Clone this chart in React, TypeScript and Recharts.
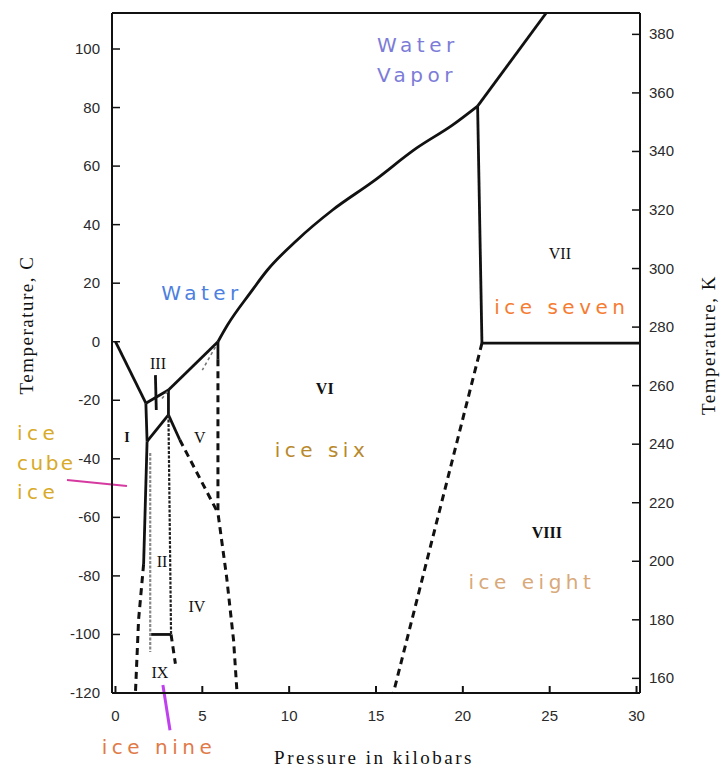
import { LineChart, Line, XAxis, YAxis, ReferenceLine, ReferenceDot } from 'recharts'

// [pressure in kbar, temperature in °C]
type Pt = [number, number]

const P_MIN = -0.2
const P_MAX = 30.2
const T_MIN = -120
const T_MAX = 112.3
const K_MIN = 155
const K_MAX = 387.3

const pressureTicks = [0, 5, 10, 15, 20, 25, 30]
const celsiusTicks = [-120, -100, -80, -60, -40, -20, 0, 20, 40, 60, 80, 100]
const kelvinTicks = [160, 180, 200, 220, 240, 260, 280, 300, 320, 340, 360, 380]

// solid phase boundaries
const liquidIh: Pt[] = [[0, 0], [1.75, -21]]
const liquidIII: Pt[] = [[1.75, -21], [3.05, -16.5]]
const liquidV: Pt[] = [[3.05, -16.5], [5.9, 0]]
const liquidVI: Pt[] = [
  [5.9, 0], [6.45, 5.7], [7.75, 16.6], [8.75, 24.5], [10.45, 34.7],
  [12.5, 45], [14.8, 54.6], [17.35, 66.2], [19.4, 74], [20.85, 80.5],
]
const liquidVII: Pt[] = [[20.85, 80.5], [24.8, 112.3]]
const sixSeven: Pt[] = [[20.85, 80.5], [21.1, -0.5]]
const sevenEight: Pt[] = [[21.1, -0.5], [30.2, -0.5]]
const oneThree: Pt[] = [[1.75, -21], [1.82, -34]]
const twoThree: Pt[] = [[1.82, -34], [3.05, -25]]
const threeFive: Pt[] = [[3.05, -25], [3.05, -16.5]]
const twoFive: Pt[] = [[3.05, -25], [3.7, -33.5]]
const fiveSix: Pt[] = [[5.9, 0], [5.9, -6]]
const oneTwo: Pt[] = [[1.82, -34], [1.62, -76]]
const twoNineFloor: Pt[] = [[2.0, -100], [3.2, -100]]
const pointerIII: Pt[] = [[2.3, -11.4], [2.35, -23.3]]

// dashed (uncertain / extrapolated) boundaries
const sixEight: Pt[] = [[21.1, -0.5], [16.0, -120]]
const twoFiveExt: Pt[] = [[3.7, -33.5], [5.9, -58.5]]
const fiveSixExt: Pt[] = [[5.9, -6], [5.9, -58.5], [6.4, -80.4], [6.8, -102], [7.0, -120]]
const oneTwoExt: Pt[] = [[1.62, -76], [1.33, -95], [1.15, -120]]
const nineTail: Pt[] = [[3.2, -100], [3.45, -110]]

// hatched lines around II / IX
const twoNineLeft: Pt[] = [[2.0, -38], [2.0, -106]]
const twoNineRight: Pt[] = [[3.05, -25], [3.2, -100]]

// faint metastable bits
const metaV: Pt[] = [[5.75, -1.8], [5.0, -9.7]]
const metaIII: Pt[] = [[3.0, -17], [2.6, -20]]

const solidLines = [liquidIh, liquidIII, liquidV, liquidVII, sixSeven, sevenEight, oneThree,
  twoThree, threeFive, twoFive, fiveSix, oneTwo, twoNineFloor, pointerIII]
const dashedLines = [sixEight, twoFiveExt, fiveSixExt, oneTwoExt, nineTail]
const hatchedLines = [twoNineLeft, twoNineRight]
const faintLines = [metaV, metaIII]

// roman numeral phase labels
const phaseNames = ['I', 'II', 'III', 'IV', 'V', 'VI', 'VII', 'VIII', 'IX']
const phaseP = [0.66, 2.68, 2.45, 4.69, 4.86, 12.05, 25.59, 24.84, 2.56]
const phaseT = [-32.6, -75.3, -7.6, -90.6, -32.9, -16.0, 30.0, -65.4, -113.2]
const boldPhases = ['I', 'VI', 'VIII']

// coloured hand-written names
const nameTexts = ['Water', 'Water', 'Vapor', 'ice seven', 'ice six', 'ice eight']
const nameP = [4.98, 17.41, 17.36, 25.7, 11.89, 23.98]
const nameT = [16.6, 101.4, 91.1, 11.9, -37, -82.1]
const nameColors = ['#4d7fe0', '#7c7cd8', '#7c7cd8', '#f57c32', '#b8882c', '#d9a97a']

const rows = (pts: Pt[]) => pts.map(([p, t]) => ({ p, t }))

const tickFont = { fontFamily: '"Liberation Sans", Arial, sans-serif', fontSize: 15, fill: '#2a2a2a' }
const handFont = { fontFamily: '"DejaVu Sans", Verdana, sans-serif', fontSize: 20, letterSpacing: 4.5 }
const serif = '"Liberation Serif", "Times New Roman", serif'

const LeftTick = ({ x, y, payload }: any) => (
  <g>
    <line x1={x + 12} x2={x + 20} y1={y} y2={y} stroke="#111" strokeWidth={1.5} />
    <text x={x} y={y} dy={5} textAnchor="end" {...tickFont}>{payload.value}</text>
  </g>
)

const RightTick = ({ x, y, payload }: any) => (
  <g>
    <line x1={x - 9} x2={x - 17} y1={y} y2={y} stroke="#111" strokeWidth={1.5} />
    <text x={x} y={y} dy={5} textAnchor="start" {...tickFont}>{payload.value}</text>
  </g>
)

const BottomTick = ({ x, y, payload }: any) => (
  <g>
    <line x1={x} x2={x} y1={y - 12} y2={y - 19} stroke="#111" strokeWidth={2} />
    <text x={x} y={y + 16} textAnchor="middle" {...tickFont}>{payload.value}</text>
  </g>
)

const overlay = (left: number, top: number, extra: React.CSSProperties = {}): React.CSSProperties => ({
  position: 'absolute',
  left,
  top,
  whiteSpace: 'nowrap',
  transform: 'translate(-50%, -50%)',
  lineHeight: 1,
  ...extra,
})

export default function App() {
  return (
    <div style={{ position: 'absolute', left: 0, top: 0, width: 722, height: 770, background: '#fff' }}>
      <LineChart width={722} height={770} margin={{ top: 13, right: 22, bottom: 37, left: 52 }}>
        <XAxis
          xAxisId="p"
          type="number"
          dataKey="p"
          domain={[P_MIN, P_MAX]}
          allowDataOverflow
          ticks={pressureTicks}
          tickSize={0}
          tickMargin={12}
          tick={<BottomTick />}
          height={40}
          axisLine={{ stroke: '#111', strokeWidth: 2 }}
        />
        <YAxis
          yAxisId="c"
          type="number"
          domain={[T_MIN, T_MAX]}
          allowDataOverflow
          ticks={celsiusTicks}
          tickSize={0}
          tickMargin={12}
          tick={<LeftTick />}
          width={60}
          axisLine={{ stroke: '#111', strokeWidth: 2 }}
        />
        <YAxis
          yAxisId="k"
          orientation="right"
          type="number"
          domain={[K_MIN, K_MAX]}
          allowDataOverflow
          ticks={kelvinTicks}
          tickSize={0}
          tickMargin={9}
          tick={<RightTick />}
          width={60}
          axisLine={{ stroke: '#111', strokeWidth: 2 }}
        />
        <ReferenceLine xAxisId="p" yAxisId="c" y={T_MAX} stroke="#111" strokeWidth={2} />

        <Line xAxisId="p" yAxisId="c" data={rows(liquidVI)} dataKey="t" type="monotone"
          stroke="#111" strokeWidth={2.8} dot={false} activeDot={false} isAnimationActive={false} />
        {solidLines.map((pts, i) => (
          <Line key={`s${i}`} xAxisId="p" yAxisId="c" data={rows(pts)} dataKey="t" type="linear"
            stroke="#111" strokeWidth={2.8} dot={false} activeDot={false} isAnimationActive={false} />
        ))}
        {dashedLines.map((pts, i) => (
          <Line key={`d${i}`} xAxisId="p" yAxisId="c" data={rows(pts)} dataKey="t" type="linear"
            stroke="#111" strokeWidth={3} strokeDasharray="7 5" dot={false} activeDot={false} isAnimationActive={false} />
        ))}
        {hatchedLines.map((pts, i) => (
          <Line key={`h${i}`} xAxisId="p" yAxisId="c" data={rows(pts)} dataKey="t" type="linear"
            stroke={i === 0 ? '#888' : '#222'} strokeWidth={2.2} strokeDasharray="3 1.5" dot={false} activeDot={false}
            isAnimationActive={false} />
        ))}
        {faintLines.map((pts, i) => (
          <Line key={`f${i}`} xAxisId="p" yAxisId="c" data={rows(pts)} dataKey="t" type="linear"
            stroke="#777" strokeWidth={1.6} strokeDasharray="3 3" dot={false} activeDot={false} isAnimationActive={false} />
        ))}

        {phaseNames.map((name, i) => (
          <ReferenceDot key={name} xAxisId="p" yAxisId="c" x={phaseP[i]} y={phaseT[i]} r={0}
            shape={(props: any) => (
              <text x={props.cx} y={props.cy} dy={5} textAnchor="middle" fontFamily={serif}
                fontSize={name === 'I' ? 14 : 16} fontWeight={boldPhases.includes(name) ? 700 : 400}
                fill="#111">{name}</text>
            )} />
        ))}
        {nameTexts.map((name, i) => (
          <ReferenceDot key={`n${i}`} xAxisId="p" yAxisId="c" x={nameP[i]} y={nameT[i]} r={0}
            shape={(props: any) => (
              <text x={props.cx} y={props.cy} dy={7} textAnchor="middle" fill={nameColors[i]} {...handFont}>{name}</text>
            )} />
        ))}

        <ReferenceLine xAxisId="p" yAxisId="c" ifOverflow="visible" stroke="#d63aa0" strokeWidth={2}
          segment={[{ x: -2.79, y: -47.2 }, { x: 0.66, y: -49.3 }]} />
        <ReferenceLine xAxisId="p" yAxisId="c" ifOverflow="visible" stroke="#c040f0" strokeWidth={3}
          segment={[{ x: 2.73, y: -117.3 }, { x: 3.14, y: -132.7 }]} />
      </LineChart>

      <div style={overlay(26, 325, { transform: 'translate(-50%, -50%) rotate(-90deg)', fontFamily: serif, fontSize: 19, letterSpacing: 1.5, color: '#111' })}>
        Temperature, C
      </div>
      <div style={overlay(708, 345, { transform: 'translate(-50%, -50%) rotate(-90deg)', fontFamily: serif, fontSize: 19, letterSpacing: 1.5, color: '#111' })}>
        Temperature, K
      </div>
      <div style={overlay(374, 757, { fontFamily: serif, fontSize: 19, letterSpacing: 2.5, color: '#111' })}>
        Pressure in kilobars
      </div>

      <div style={overlay(17, 433, { transform: 'translate(0, -50%)', color: '#d8aa28', ...handFont })}>ice</div>
      <div style={overlay(17, 463, { transform: 'translate(0, -50%)', color: '#d8aa28', ...handFont, letterSpacing: 2.5 })}>cube</div>
      <div style={overlay(17, 492, { transform: 'translate(0, -50%)', color: '#d8aa28', ...handFont })}>ice</div>
      <div style={overlay(159, 747, { color: '#e07a48', ...handFont })}>ice nine</div>
    </div>
  )
}
